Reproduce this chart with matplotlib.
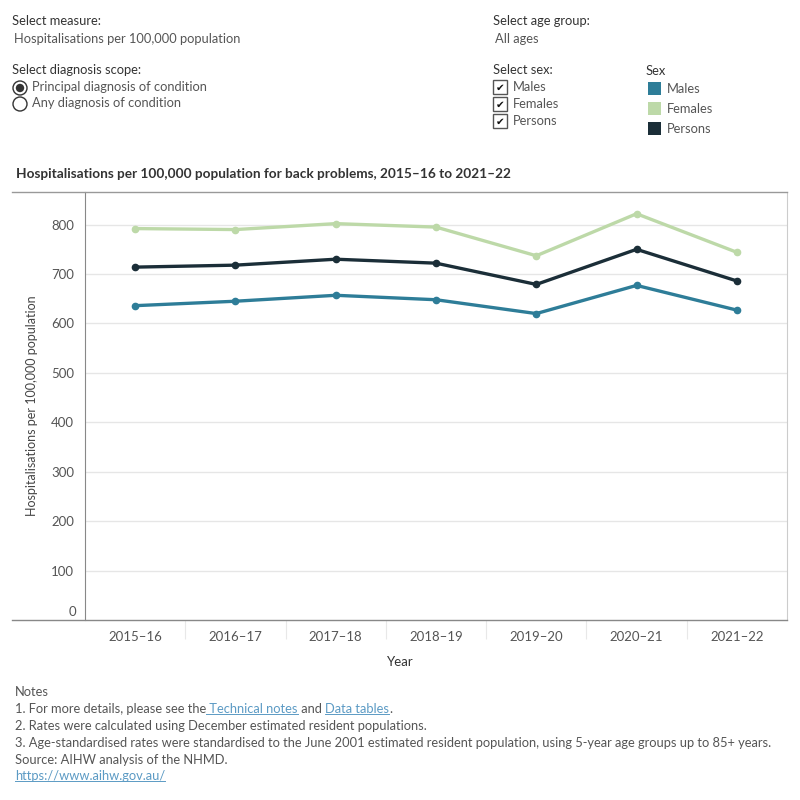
import matplotlib.pyplot as plt
from matplotlib.lines import Line2D
from matplotlib.patches import Circle, Rectangle

# Data
years = ['2015–16', '2016–17', '2017–18', '2018–19', '2019–20', '2020–21', '2021–22']
males = [636, 645, 657, 648, 620, 677, 627]
females = [792, 790, 802, 795, 737, 822, 744]
persons = [714, 718, 730, 722, 679, 750, 686]

series_names = ['Males', 'Females', 'Persons']
series_colors = ['#2e7d98', '#bdd9a8', '#1b2e38']

notes = [
    '2. Rates were calculated using December estimated resident populations.',
    '3. Age-standardised rates were standardised to the June 2001 estimated resident population, '
    'using 5-year age groups up to 85+ years.',
    'Source: AIHW analysis of the NHMD.',
]

plt.rcParams['font.family'] = ['Lato', 'DejaVu Sans']

W = H = 800
fig = plt.figure(figsize=(8, 8), dpi=100)


def fx(x):
    return x / W


def fy(y):
    return 1 - y / H


def label(x, y, s, size=9.3, color='#555555', **kw):
    return fig.text(fx(x), fy(y), s, fontsize=size, color=color, va='center', **kw)


# Filter / control panel at the top
label(12, 21, 'Select measure:', color='#333333')
label(14, 39, 'Hospitalisations per 100,000 population')
label(12, 70, 'Select diagnosis scope:', color='#333333')
for i, txt in enumerate(['Principal diagnosis of condition', 'Any diagnosis of condition']):
    cy = 88 + i * 16
    fig.patches.append(Circle((fx(20), fy(cy)), 7 / W, transform=fig.transFigure,
                              facecolor='white', edgecolor='#333333', lw=1))
    if i == 0:
        fig.patches.append(Circle((fx(20), fy(cy)), 4.2 / W, transform=fig.transFigure,
                                  facecolor='#333333', edgecolor='none'))
    label(32, cy - 1, txt)

label(493, 21, 'Select age group:', color='#333333')
label(495, 39, 'All ages')
label(493, 70, 'Select sex:', color='#333333')
for i, name in enumerate(series_names):
    top = 80 + i * 17
    fig.patches.append(Rectangle((fx(493), fy(top + 14)), 14 / W, 14 / H,
                                 transform=fig.transFigure, facecolor='white',
                                 edgecolor='#555555', lw=1))
    fig.text(fx(500), fy(top + 7.5), '✔', fontsize=7.5, color='#111111',
             ha='center', va='center', family='DejaVu Sans')
    label(513, top + 7, name)

label(646, 71, 'Sex', color='#333333')
for i, (name, col) in enumerate(zip(series_names, series_colors)):
    top = 82 + i * 20
    fig.patches.append(Rectangle((fx(648), fy(top + 13)), 13 / W, 13 / H,
                                 transform=fig.transFigure, facecolor=col, edgecolor='none'))
    label(667, top + 7, name)

# Chart title
fig.text(fx(16), fy(174), 'Hospitalisations per 100,000 population for back problems, '
         '2015–16 to 2021–22', fontsize=9.8, fontweight='bold', color='#333333', va='center')

# Main plot
ax = fig.add_axes([fx(85), fy(620), fx(787 - 85), (620 - 192) / H])
x = list(range(len(years)))
for vals, col in zip([males, females, persons], series_colors):
    ax.plot(x, vals, color=col, lw=2.4, marker='o', markersize=4.5, zorder=3)

ax.set_xlim(-0.5, len(years) - 0.5)
ax.set_ylim(0, 866)
ax.set_yticks(range(100, 900, 100))
ax.set_xticks(x)
ax.set_xticklabels(years)
ax.set_xticks([i + 0.5 for i in x[:-1]], minor=True)
ax.tick_params(axis='both', which='major', length=0, labelsize=9.5, colors='#555555')
ax.tick_params(axis='x', which='major', pad=8)
ax.tick_params(axis='y', which='major', pad=8)
ax.tick_params(axis='x', which='minor', length=14, width=0.8, color='#e8e8e8')
ax.annotate('0', xy=(0, 0), xycoords=('axes fraction', 'data'), xytext=(-6, 6),
            textcoords='offset points', ha='right', va='center', fontsize=9.5, color='#555555')
ax.yaxis.grid(True, color='#e6e6e6', lw=1)
ax.set_axisbelow(True)
for side in ['top', 'bottom']:
    ax.spines[side].set_visible(False)
ax.spines['left'].set_color('#888888')
ax.spines['right'].set_color('#cccccc')

# Frame lines that run past the y axis, as in the dashboard
fig.add_artist(Line2D([fx(12), fx(787)], [fy(192), fy(192)], color='#999999', lw=1))
fig.add_artist(Line2D([fx(12), fx(787)], [fy(620), fy(620)], color='#888888', lw=1))

ax.set_ylabel('Hospitalisations per 100,000 population', fontsize=9, color='#444444')
ax.yaxis.set_label_coords((38 - 85) / 702, 0.5)
fig.text(fx(400), fy(662), 'Year', fontsize=9.5, color='#333333', ha='center', va='center')

# Notes
ns = 9.25
label(15, 692, 'Notes', size=ns)
t1 = label(15, 709, '1. For more details, please see the', size=ns)
link_color = '#5b9ac4'
t2 = fig.text(0, 0, ' Technical notes', fontsize=ns, color=link_color, va='center')
t3 = fig.text(0, 0, ' and ', fontsize=ns, color='#555555', va='center')
t4 = fig.text(0, 0, 'Data tables', fontsize=ns, color=link_color, va='center')
t5 = fig.text(0, 0, '.', fontsize=ns, color='#555555', va='center')
for i, s in enumerate(notes):
    label(15, 726 + i * 17, s, size=ns)
t6 = label(15, 776, 'https://www.aihw.gov.au/', size=ns, color=link_color)

# Chain the pieces of note 1 and underline the links
fig.canvas.draw()
r = fig.canvas.get_renderer()
prev = t1
for t in [t2, t3, t4, t5]:
    bb = prev.get_window_extent(r)
    t.set_position((bb.x1 / W, fy(709)))
    prev = t
fig.canvas.draw()
for t in [t2, t4, t6]:
    bb = t.get_window_extent(r)
    fig.add_artist(Line2D([bb.x0 / W, bb.x1 / W], [(bb.y0 + 1) / H, (bb.y0 + 1) / H],
                          color=link_color, lw=0.7))

fig.savefig('out.png', dpi=100)
plt.close(fig)
